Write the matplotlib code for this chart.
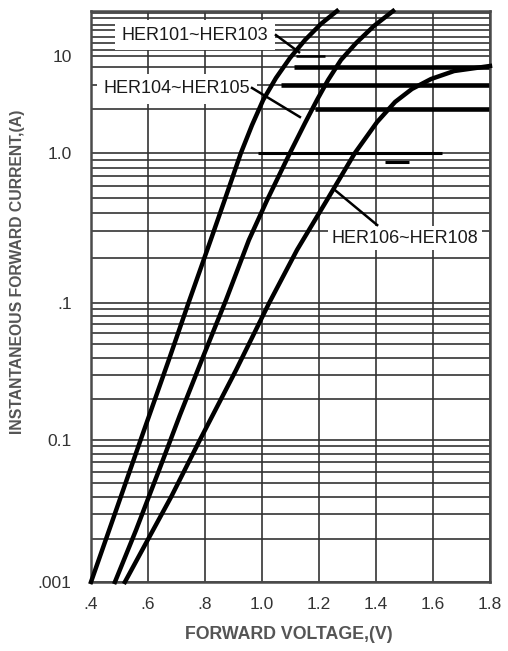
import numpy as np
import matplotlib
matplotlib.use("Agg")
from matplotlib import pyplot as plt

plt.rcParams['font.family'] = ['Liberation Sans', 'DejaVu Sans']

# forward voltage (V) / instantaneous forward current (A)
v_101 = [0.400, 0.476, 0.574, 0.673, 0.742, 0.820, 0.869, 0.926, 0.965, 1.004,
         1.049, 1.098, 1.151, 1.207, 1.263]
i_101 = [0.001, 0.00273, 0.0100, 0.0384, 0.100, 0.263, 0.486, 1.00, 1.94, 3.52,
         5.93, 9.53, 12.8, 16.4, 20.0]

v_104 = [0.484, 0.558, 0.639, 0.712, 0.793, 0.874, 0.954, 1.018, 1.098, 1.151,
         1.193, 1.232, 1.277, 1.330, 1.393, 1.460]
i_104 = [0.001, 0.00232, 0.00615, 0.0152, 0.0404, 0.105, 0.263, 0.486, 1.00, 2.04,
         3.52, 5.66, 9.1, 12.2, 15.9, 20.0]

v_106 = [0.519, 0.593, 0.681, 0.782, 0.909, 1.025, 1.123, 1.228, 1.326, 1.404,
         1.467, 1.526, 1.593, 1.674, 1.800]
i_106 = [0.001, 0.00188, 0.00397, 0.0100, 0.0324, 0.100, 0.226, 0.486, 1.00, 2.09,
         3.36, 4.57, 5.79, 7.00, 7.89]

x_ticks = [0.4, 0.6, 0.8, 1.0, 1.2, 1.4, 1.6, 1.8]
x_labels = ['.4', '.6', '.8', '1.0', '1.2', '1.4', '1.6', '1.8']
y_ticks = [0.001, 0.01, 0.1, 1.0, 10.0]
y_labels = ['.001', '0.1', '.1', '1.0', '10']

# horizontal rulings of the chart paper
y_minor = ([k * 1e-3 for k in range(2, 10)] + [k * 1e-2 for k in range(2, 10)] +
           [k * 1e-1 for k in range(2, 10)] + [2.85, 5.0, 7.7] +
           [11.0, 12.2, 13.4, 14.9, 16.1, 17.9, 19.4])

# heavy rule segments: (current, v_start, v_end, width)
heavy = [(7.7, 1.112, 1.8, 3.3), (5.0, 1.067, 1.8, 3.3), (2.85, 1.186, 1.8, 3.3),
         (1.0, 0.986, 1.63, 2.2), (0.871, 1.43, 1.516, 2.2), (10.0, 1.12, 1.22, 1.8)]

# warped log axis of the printed grid: log10(I) -> height
LOGS = np.array([-9.0, -3.0, -2.0, -1.0, 0.0, 1.0, np.log10(20), 5.0])
POS = np.array([-852.0, 0.0, 142.0, 279.0, 429.0, 526.0, 571.0, 1124.0])


def fwd(v):
    v = np.clip(np.asarray(v, dtype=float), 1e-9, None)
    return np.interp(np.log10(v), LOGS, POS)


def inv(p):
    return 10 ** np.interp(np.asarray(p, dtype=float), POS, LOGS)


fig = plt.figure(figsize=(5.08, 6.51), dpi=100)
ax = fig.add_axes([91 / 508, 69 / 651, 399 / 508, 571 / 651])
ax.set_yscale('function', functions=(fwd, inv))
ax.set_xlim(0.4, 1.8)
ax.set_ylim(0.001, 20)

ax.set_xticks(x_ticks, x_labels)
ax.set_yticks(y_ticks, y_labels)
ax.set_yticks(y_minor, minor=True)
ax.tick_params(which='both', length=0)
ax.tick_params(axis='x', pad=11, labelsize=12.5, labelcolor='#333333')
ax.tick_params(axis='y', pad=14, labelsize=12.5, labelcolor='#333333')
ax.set_axisbelow(True)
ax.grid(True, axis='x', which='major', color='#333333', lw=1.2)
ax.grid(True, axis='y', which='both', color='#333333', lw=1.2)
for sp in ax.spines.values():
    sp.set_color('#4a4a4a')
    sp.set_linewidth(1.8)

for yv, x0, x1, w in heavy:
    ax.hlines(yv, x0, x1, color='black', lw=w, zorder=2)

ax.plot(v_101, i_101, color='black', lw=3.2, zorder=5, clip_on=False)
ax.plot(v_104, i_104, color='black', lw=3.2, zorder=5, clip_on=False)
ax.plot(v_106, i_106, color='black', lw=3.2, zorder=5, clip_on=False)

box = dict(boxstyle='square,pad=0.35', facecolor='white', edgecolor='none')
ax.text(0.765, 13.8, 'HER101~HER103', fontsize=13, ha='center', va='center',
        color='#1a1a1a', bbox=box, zorder=3)
ax.text(0.702, 4.57, 'HER104~HER105', fontsize=13, ha='center', va='center',
        color='#1a1a1a', bbox=box, zorder=3)
ax.text(1.502, 0.271, 'HER106~HER108', fontsize=13, ha='center', va='center',
        color='#1a1a1a', bbox=dict(boxstyle='square,pad=0.2', facecolor='white',
                                   edgecolor='none'), zorder=3)
ax.plot([1.049, 1.130], [13.8, 10.6], color='black', lw=1.8, zorder=4)
ax.plot([0.965, 1.133], [4.68, 2.35], color='black', lw=1.8, zorder=4)
ax.plot([1.256, 1.404], [0.566, 0.331], color='black', lw=1.8, zorder=4)

ax.set_xlabel('FORWARD VOLTAGE,(V)', fontsize=12.8, fontweight='bold', color='#555555')
ax.xaxis.set_label_coords(0.496, -0.077)
ax.set_ylabel('INSTANTANEOUS FORWARD CURRENT,(A)', fontsize=11.3, fontweight='bold',
              color='#555555')
ax.yaxis.set_label_coords(-0.165, 0.543)

fig.savefig('out.png', dpi=100)
